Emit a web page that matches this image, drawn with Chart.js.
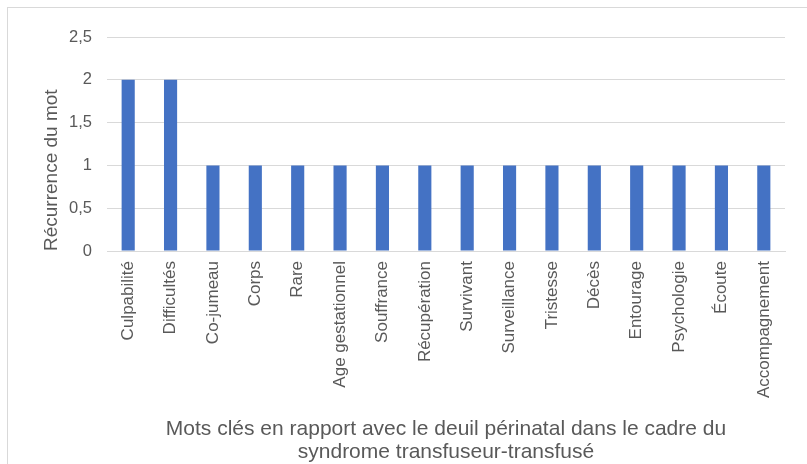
<!DOCTYPE html>
<html>
<head>
<meta charset="utf-8">
<script src="https://cdn.jsdelivr.net/npm/chart.js@4.4.0/dist/chart.umd.min.js"></script>
<style>
  body { margin: 0; background: #fff; }
  #wrap { position: relative; width: 807px; height: 464px; overflow: hidden; }
  #frame { position: absolute; left: 7px; top: 7px; width: 820px; height: 480px;
           border-left: 1px solid #d9d9d9; border-top: 1px solid #d9d9d9; }
  canvas { position: absolute; left: 0; top: 0; }
</style>
</head>
<body>
<div id="wrap">
  <div id="frame"></div>
  <canvas id="myChart" width="807" height="464"></canvas>
</div>
<script>
const keywords = ['Culpabilité', 'Difficultés', 'Co-jumeau', 'Corps', 'Rare', 'Age gestationnel', 'Souffrance',
  'Récupération', 'Survivant', 'Surveillance', 'Tristesse', 'Décès', 'Entourage', 'Psychologie', 'Écoute', 'Accompagnement'];
const occurrences = [2, 2, 1, 1, 1, 1, 1, 1, 1, 1, 1, 1, 1, 1, 1, 1];
const yTitle = 'Récurrence du mot';
const xTitle = ['Mots clés en rapport avec le deuil périnatal dans le cadre du', 'syndrome transfuseur-transfusé'];

const textColor = '#595959';
const gridColor = '#d9d9d9';
const family = '"Liberation Sans", Arial, sans-serif';

Chart.defaults.font.family = family;
Chart.defaults.color = textColor;

const ctx = document.getElementById('myChart').getContext('2d');

new Chart(ctx, {
  type: 'bar',
  data: {
    labels: keywords,
    datasets: [{
      data: occurrences,
      backgroundColor: '#4472c4',
      categoryPercentage: 1,
      barPercentage: 0.31
    }]
  },
  options: {
    responsive: false,
    animation: false,
    layout: { padding: { left: 30, top: 37, right: 22, bottom: 0 } },
    plugins: { legend: { display: false }, tooltip: { enabled: false } },
    scales: {
      x: {
        grid: { display: false, drawTicks: false },
        border: { color: gridColor },
        ticks: { autoSkip: false, maxRotation: 90, minRotation: 90, padding: 10, font: { size: 17 }, color: textColor },
        title: { display: true, text: xTitle, font: { size: 21, lineHeight: 1.1 }, color: textColor, padding: { top: 0, bottom: 0 } },
        afterFit: (scale) => { scale.height = 213; }
      },
      y: {
        min: 0,
        max: 2.5,
        ticks: {
          stepSize: 0.5,
          padding: 15,
          font: { size: 16.5 },
          color: textColor,
          callback: (v) => String(v).replace('.', ',')
        },
        grid: { color: gridColor, drawTicks: false },
        border: { display: false },
        title: { display: true, text: yTitle, align: 'start', font: { size: 19 }, color: textColor, padding: { top: 10, bottom: 0 } },
        afterFit: (scale) => { scale.width = 77; }
      }
    }
  }
});
</script>
</body>
</html>
